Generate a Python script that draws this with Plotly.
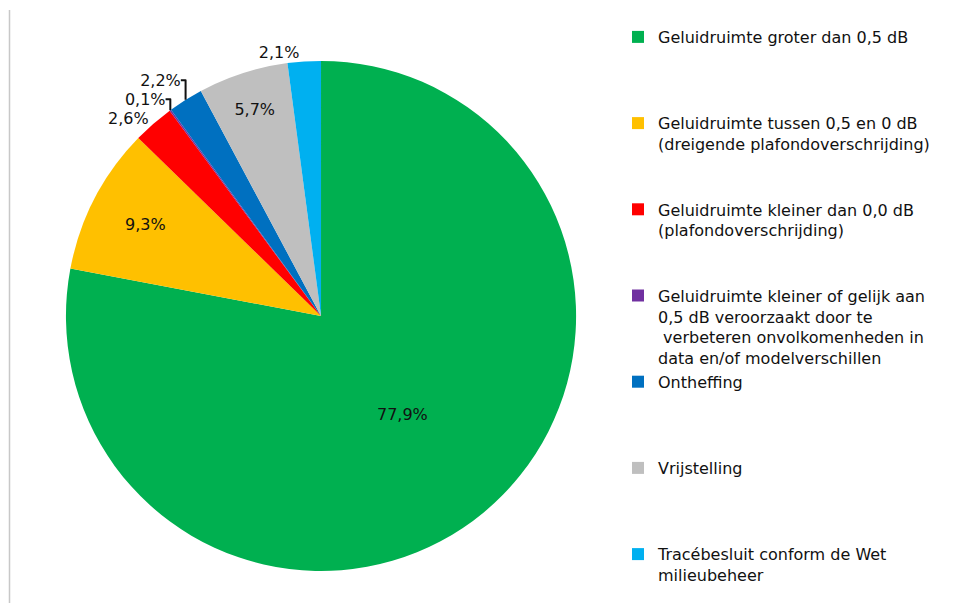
import plotly.graph_objects as go

labels = [
    "Geluidruimte groter dan 0,5 dB",
    "Geluidruimte tussen 0,5 en 0 dB<br>(dreigende plafondoverschrijding)",
    "Geluidruimte kleiner dan 0,0 dB<br>(plafondoverschrijding)",
    "Geluidruimte kleiner of gelijk aan<br>0,5 dB veroorzaakt door te<br> verbeteren onvolkomenheden in<br>data en/of modelverschillen",
    "Ontheffing",
    "Vrijstelling",
    "Tracébesluit conform de Wet<br>milieubeheer",
]
values = [77.9, 9.3, 2.6, 0.1, 2.2, 5.7, 2.1]
colors = ["#00B050", "#FFC000", "#FF0000", "#7030A0", "#0070C0", "#BFBFBF", "#00B0F0"]
text_pos = ["inside", "inside", "outside", "outside", "outside", "inside", "outside"]

# pad legend labels to equal line counts so that legend entries are evenly spaced
LINES = 4
legend_labels = []
for i, lab in enumerate(labels):
    n = lab.count("<br>") + 1
    pad = (LINES - n) if i < len(labels) - 1 else 0
    legend_labels.append(lab + "<br> " * pad)

texts = [("%.1f%%" % v).replace(".", ",") for v in values]
font_family = "DejaVu Sans, Verdana, sans-serif"

fig = go.Figure(
    go.Pie(
        labels=legend_labels,
        values=values,
        text=texts,
        textinfo="text",
        textposition=text_pos,
        sort=False,
        direction="clockwise",
        rotation=0,
        marker=dict(colors=colors, line=dict(width=0)),
        insidetextfont=dict(color="#111111", size=16, family=font_family),
        outsidetextfont=dict(color="#111111", size=16, family=font_family),
        insidetextorientation="horizontal",
        domain=dict(x=[0.069, 0.604], y=[0.053, 0.899]),
        hoverinfo="label+percent",
        automargin=False,
    )
)

fig.add_shape(type="line", xref="paper", yref="paper",
              x0=9.5 / 954, x1=9.5 / 954, y0=0, y1=1 - 10 / 603,
              line=dict(color="#c8c8c8", width=1.5))

fig.update_layout(
    width=954,
    height=603,
    margin=dict(l=0, r=0, t=0, b=0),
    paper_bgcolor="white",
    plot_bgcolor="white",
    font=dict(family=font_family, size=16, color="#111111"),
    legend=dict(
        x=618 / 954,
        y=1 - 20 / 603,
        xanchor="left",
        yanchor="top",
        valign="top",
        font=dict(size=16, family=font_family, color="#111111"),
        bgcolor="rgba(0,0,0,0)",
        itemclick=False,
    ),
    showlegend=True,
)

fig.write_html("out.html", config={"displayModeBar": False},
               post_script="document.body.style.margin='0px';")
